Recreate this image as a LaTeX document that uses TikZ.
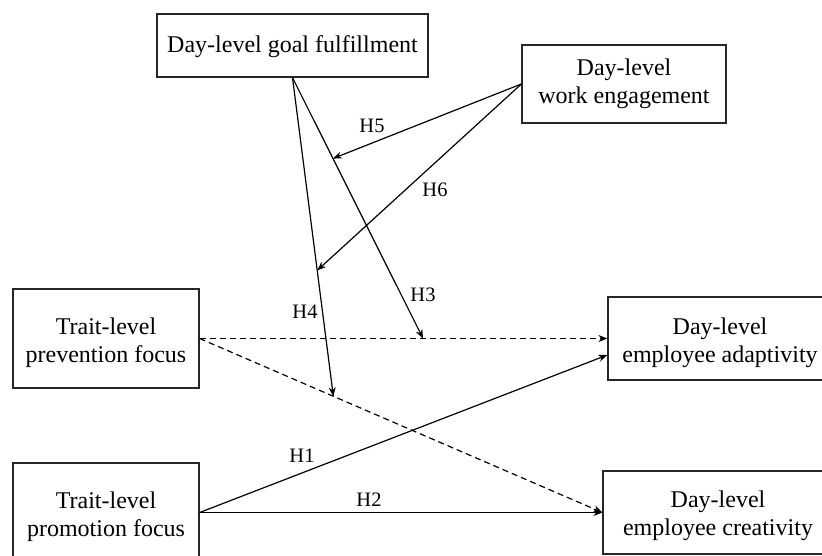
\documentclass[tikz,border=0pt]{standalone}
\usepackage{fontspec}
\setmainfont{Liberation Serif}
\usetikzlibrary{arrows.meta,calc}
\newcommand{\twoln}[2]{\begin{tabular}[b]{@{}c@{}}#1\\#2\end{tabular}}
\begin{document}
\begin{tikzpicture}[x=1pt,y=-1pt,
  box/.style={draw=black!85,line width=1.3pt,inner sep=0pt,font=\fontsize{24}{28}\selectfont,text depth=0pt},
  lbl/.style={inner sep=0pt,font=\fontsize{20.5}{24}\selectfont},
  arr/.style={line width=1.2pt,-{Stealth[length=9pt,width=7pt]}},
  dsh/.style={arr,dash pattern=on 6pt off 4pt}]
\useasboundingbox (0,0) rectangle (822,556);
\clip (0,0) rectangle (822,556);
\fill[white] (0,0) rectangle (822,556);
\node[box,minimum width=271pt,minimum height=63pt,text height=15pt] (goal) at (292.5,45.5) {Day-level goal fulfillment};
\node[box,minimum width=204pt,minimum height=78pt,text height=40pt] (work) at (624,84) {\twoln{Day-level}{work engagement}};
\node[box,minimum width=186pt,minimum height=99pt,text height=47pt] (prev) at (106,338.5) {\twoln{Trait-level}{prevention focus}};
\node[box,minimum width=186pt,minimum height=99pt,text height=48pt] (prom) at (106,512.5) {\twoln{Trait-level}{promotion focus}};
\node[box,minimum width=224pt,minimum height=83pt,text height=47pt] (adapt) at (720,338.5) {\twoln{Day-level}{employee adaptivity}};
\node[box,minimum width=230pt,minimum height=83pt,text height=45pt] (creat) at (718,512.5) {\twoln{Day-level}{employee creativity}};
\coordinate (h3t) at ($(prev.east)!0.548!(adapt.west)$);
\coordinate (h4t) at ($(prev.east)!0.332!(creat.west)$);
\coordinate (h5t) at ($(goal.south)!0.31!(h3t)$);
\coordinate (h6t) at ($(goal.south)!0.605!(h4t)$);
\coordinate (h1t) at ([yshift=-16.5pt]adapt.west);
\draw[dsh] (prev.east) -- (adapt.west);
\draw[dsh] (prev.east) -- (creat.west);
\draw[arr] (prom.east) -- (h1t);
\draw[arr] (prom.east) -- (creat.west);
\draw[arr] (goal.south) -- (h3t);
\draw[arr] (goal.south) -- (h4t);
\draw[arr] (work.west) -- (h5t);
\draw[arr] (work.west) -- (h6t);
\node[lbl] (l1) at (302,456) {H1};
\node[lbl] (l2) at (369,500) {H2};
\node[lbl] (l3) at (423,295) {H3};
\node[lbl] (l4) at (305,312) {H4};
\node[lbl] (l5) at (372,126) {H5};
\node[lbl] (l6) at (435,190) {H6};
\end{tikzpicture}
\end{document}
